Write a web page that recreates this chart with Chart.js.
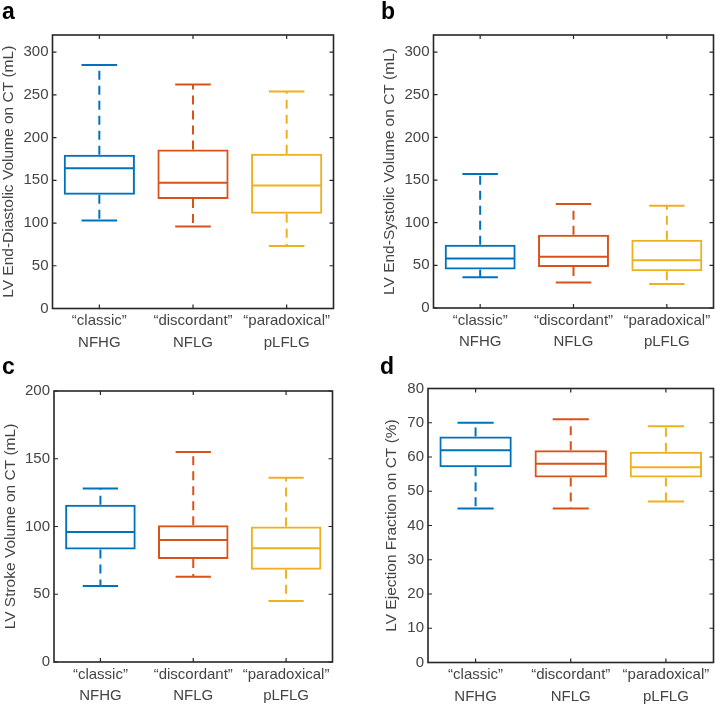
<!DOCTYPE html>
<html>
<head>
<meta charset="utf-8">
<script src="https://cdn.jsdelivr.net/npm/chart.js@4.4.1/dist/chart.umd.min.js"></script>
<style>
  html, body { margin: 0; padding: 0; background: #fff; }
  #wrap { position: relative; width: 715px; height: 706px; overflow: hidden; }
  canvas { position: absolute; }
  .tag { position: absolute; font: bold 23px/23px "Liberation Sans", Arial, sans-serif; color: #000; }
</style>
</head>
<body>
<div id="wrap">
  <canvas id="edvChart" width="357" height="353" style="left:0;top:0"></canvas>
  <canvas id="esvChart" width="358" height="353" style="left:357px;top:0"></canvas>
  <canvas id="svChart" width="357" height="353" style="left:0;top:353px"></canvas>
  <canvas id="efChart" width="358" height="353" style="left:357px;top:353px"></canvas>
  <div class="tag" style="left:2px;top:0">a</div>
  <div class="tag" style="left:381px;top:0">b</div>
  <div class="tag" style="left:2px;top:355px">c</div>
  <div class="tag" style="left:380px;top:355px">d</div>
</div>
<script>
// --- data ---
const categories = [['\u201cclassic\u201d', 'NFHG'], ['\u201cdiscordant\u201d', 'NFLG'], ['\u201cparadoxical\u201d', 'pLFLG']];
const groupColors = ['#0072BD', '#D95319', '#EDB120'];

const volumeTicks = [0, 50, 100, 150, 200, 250, 300];
const strokeTicks = [0, 50, 100, 150, 200];
const efTicks = [0, 10, 20, 30, 40, 50, 60, 70, 80];

// a: end-diastolic volume
const edvMin = [103, 96, 73];
const edvQ1 = [133, 128, 111];
const edvMed = [164, 147, 144];
const edvQ3 = [180, 186, 181];
const edvMax = [285, 262, 254];

// b: end-systolic volume
const esvMin = [36, 30, 28];
const esvQ1 = [45, 48, 43];
const esvMed = [58, 60, 56];
const esvQ3 = [74, 86, 80];
const esvMax = [157, 122, 120];

// c: stroke volume
const svMin = [56, 63, 45];
const svQ1 = [83, 76, 68];
const svMed = [96, 90, 84];
const svQ3 = [116, 101, 100];
const svMax = [128, 155, 136];

// d: ejection fraction
const efMin = [45, 45, 47];
const efQ1 = [57, 54, 54];
const efMed = [62, 58, 57];
const efQ3 = [66, 62, 61.5];
const efMax = [70, 71, 69];

const FONT = '"Liberation Sans", Arial, Helvetica, sans-serif';
const INK = '#444444';

// median, dashed whiskers and caps, drawn through the chart's scales
const boxPlot = {
    id: 'boxPlot',
    afterDatasetsDraw(chart, args, opts) {
        const { ctx, scales: { x, y } } = chart;
        const bars = chart.getDatasetMeta(0).data;
        const seg = (x1, y1, x2, y2) => {
            ctx.beginPath();
            ctx.moveTo(x1, y1);
            ctx.lineTo(x2, y2);
            ctx.stroke();
        };
        ctx.save();
        ctx.lineWidth = 2;
        opts.med.forEach((m, i) => {
            const cx = x.getPixelForValue(i);
            const half = bars[i].width / 2;
            const cap = half / 2;
            ctx.strokeStyle = groupColors[i];
            ctx.setLineDash([]);
            seg(cx - half + 1, y.getPixelForValue(m), cx + half - 1, y.getPixelForValue(m));
            seg(cx - cap, y.getPixelForValue(opts.hi[i]), cx + cap, y.getPixelForValue(opts.hi[i]));
            seg(cx - cap, y.getPixelForValue(opts.lo[i]), cx + cap, y.getPixelForValue(opts.lo[i]));
            ctx.setLineDash([9, 6]);
            seg(cx, y.getPixelForValue(opts.q3[i]), cx, y.getPixelForValue(opts.hi[i]));
            seg(cx, y.getPixelForValue(opts.q1[i]), cx, y.getPixelForValue(opts.lo[i]));
        });
        ctx.restore();
    }
};

// MATLAB-style box frame with inward ticks on all four sides
const frame = {
    id: 'frame',
    afterDraw(chart) {
        const { ctx, chartArea: { left, right, top, bottom }, scales: { x, y } } = chart;
        ctx.save();
        ctx.strokeStyle = '#262626';
        ctx.lineWidth = 1.6;
        ctx.strokeRect(left, top, right - left, bottom - top);
        ctx.lineWidth = 1.2;
        ctx.beginPath();
        y.ticks.forEach(t => {
            const py = y.getPixelForValue(t.value);
            ctx.moveTo(left, py); ctx.lineTo(left + 4, py);
            ctx.moveTo(right, py); ctx.lineTo(right - 4, py);
        });
        x.ticks.forEach((t, i) => {
            const px = x.getPixelForValue(i);
            ctx.moveTo(px, bottom); ctx.lineTo(px, bottom - 4);
            ctx.moveTo(px, top); ctx.lineTo(px, top + 4);
        });
        ctx.stroke();
        ctx.restore();
    }
};

function makePanel(id, rect, plot, titleX, title, yMax, yTicks, lo, q1, med, q3, hi) {
    const padLeft = Math.max(0, titleX - rect.x - 8.25);
    const yWidth = plot.L - rect.x - padLeft;
    const xHeight = rect.y + rect.h - plot.B;

    new Chart(document.getElementById(id), {
        type: 'bar',
        data: {
            labels: categories,
            datasets: [{
                data: q1.map((v, i) => [v, q3[i]]),
                backgroundColor: 'rgba(0,0,0,0)',
                borderColor: groupColors,
                borderWidth: 2,
                borderSkipped: false,
                barPercentage: 0.76,
                categoryPercentage: 1
            }]
        },
        options: {
            responsive: false,
            animation: false,
            events: [],
            layout: {
                padding: { left: padLeft, top: plot.T - rect.y, right: rect.x + rect.w - plot.R, bottom: 0 }
            },
            plugins: {
                legend: { display: false },
                tooltip: { enabled: false },
                boxPlot: { lo, q1, med, q3, hi }
            },
            scales: {
                x: {
                    offset: true,
                    grid: { display: false, drawTicks: false },
                    border: { display: false },
                    ticks: { color: INK, padding: 2, font: { family: FONT, size: 15, lineHeight: 1.43 }, maxRotation: 0 },
                    afterFit: s => { s.height = xHeight; }
                },
                y: {
                    min: 0,
                    max: yMax,
                    afterBuildTicks: s => { s.ticks = yTicks.map(v => ({ value: v })); },
                    grid: { display: false, drawTicks: false },
                    border: { display: false },
                    ticks: { color: INK, padding: 4, font: { family: FONT, size: 15 } },
                    title: {
                        display: true,
                        text: title,
                        color: INK,
                        padding: { top: 0, bottom: 0 },
                        font: { family: FONT, size: 15.5, lineHeight: 1.1 }
                    },
                    afterFit: s => { s.width = yWidth; }
                }
            }
        },
        plugins: [boxPlot, frame]
    });
}

makePanel('edvChart', { x: 0, y: 0, w: 357, h: 353 }, { L: 52.5, T: 35, R: 333.5, B: 308.5 }, 8,
    'LV End-Diastolic Volume on CT (mL)', 320, volumeTicks, edvMin, edvQ1, edvMed, edvQ3, edvMax);
makePanel('esvChart', { x: 357, y: 0, w: 358, h: 353 }, { L: 433.5, T: 35, R: 713.5, B: 308 }, 389,
    'LV End-Systolic Volume on CT (mL)', 320, volumeTicks, esvMin, esvQ1, esvMed, esvQ3, esvMax);
makePanel('svChart', { x: 0, y: 353, w: 357, h: 353 }, { L: 54, T: 391, R: 332.5, B: 662 }, 10,
    'LV Stroke Volume on CT (mL)', 200, strokeTicks, svMin, svQ1, svMed, svQ3, svMax);
makePanel('efChart', { x: 357, y: 353, w: 358, h: 353 }, { L: 428, T: 388.5, R: 713.5, B: 662.5 }, 391,
    'LV Ejection Fraction on CT (%)', 80, efTicks, efMin, efQ1, efMed, efQ3, efMax);
</script>
</body>
</html>
